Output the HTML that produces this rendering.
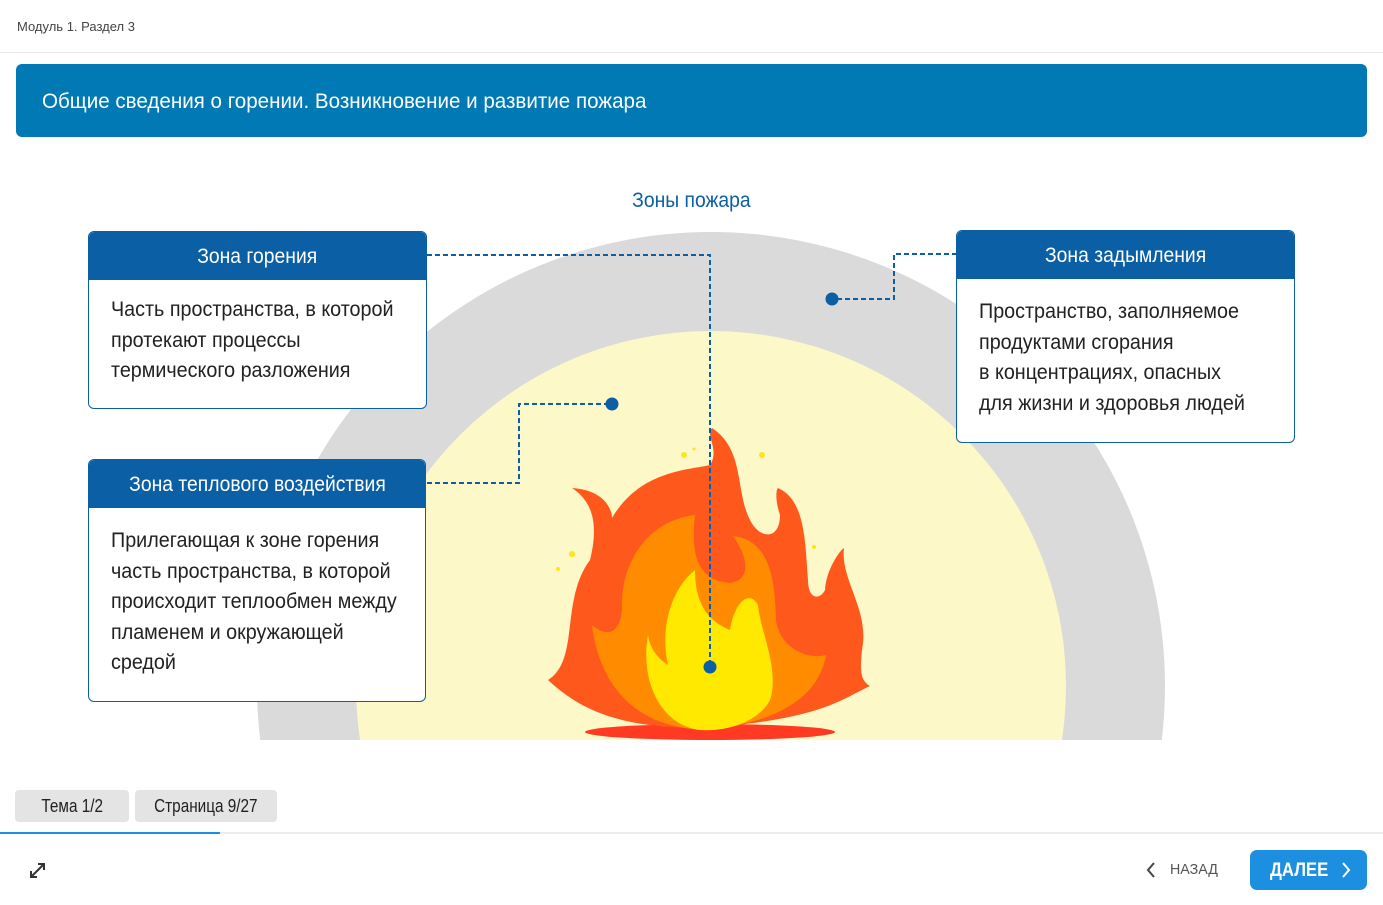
<!DOCTYPE html>
<html><head><meta charset="utf-8">
<style>
html,body{margin:0;width:1383px;height:905px;overflow:hidden;}
body{background:#fff;position:relative;font-family:"Liberation Sans",sans-serif;}
.abs{position:absolute}
.box{position:absolute;background:#fff;border:1px solid #0b5fa5;border-radius:6px;box-sizing:border-box;overflow:hidden}
.hd{background:#0b5fa5;color:#fff;border-radius:5px 5px 0 0;text-align:center;font-size:21px;height:48px;line-height:50px;}
.hd span{display:inline-block;transform:scaleX(0.92)}
.tw{padding:17px 0 0 22px}
.tx{font-size:21px;color:#222;line-height:30.5px;white-space:nowrap;transform:scaleX(0.94);transform-origin:0 0}
.sx{display:inline-block;transform-origin:0 50%}
</style></head><body>
<div class="abs" style="left:17px;top:19px;font-size:13px;color:#444">Модуль 1. Раздел 3</div>
<div class="abs" style="left:0;top:52px;width:1383px;height:1px;background:#e6e6e6"></div>
<div class="abs" style="left:16px;top:64px;width:1351px;height:73px;background:#0179b4;border-radius:6px;color:#fff;font-size:21px;line-height:76px;box-sizing:border-box;padding-left:26px;white-space:nowrap"><span class="sx" style="transform:scaleX(0.98)">Общие сведения о горении. Возникновение и развитие пожара</span></div>
<div class="abs" style="left:0;top:189px;width:1383px;text-align:center;color:#0b5fa5;font-size:21px"><span style="display:inline-block;transform:scaleX(0.92)">Зоны пожара</span></div>
<svg class="abs" style="left:0;top:0" width="1383" height="905">
<defs><clipPath id="c"><rect x="0" y="0" width="1383" height="740"/></clipPath></defs>
<g clip-path="url(#c)">
<circle cx="711" cy="686" r="454" fill="#dadada"/>
<circle cx="711" cy="686" r="355" fill="#fdf8c8"/>
</g>
<ellipse cx="710" cy="732" rx="125" ry="8" fill="#ff3a22"/>
<path d="M548 680 C580 660 560 600 590 560 C600 520 590 500 572 488 C605 490 612 510 612 518 C640 470 690 470 710 465 C720 450 705 435 712 428 C745 450 735 490 750 520 C760 540 780 540 780 515 C775 500 776 490 778 488 C805 500 805 540 808 580 C808 600 820 600 825 590 C826 570 840 550 844 548 C840 580 870 610 862 650 C860 670 860 680 870 686 C840 700 820 720 700 728 C620 728 580 710 548 680Z" fill="#ff581d"/>
<path d="M592 625 C610 640 620 630 622 610 C620 560 650 520 695 515 C690 560 700 580 730 583 C750 580 750 560 733 536 C770 540 775 580 776 620 C780 650 810 660 826 655 C820 690 790 720 710 730 C640 730 600 690 592 625Z" fill="#ff8c00"/>
<path d="M648 635 C650 650 660 660 668 665 C660 630 670 590 695 570 C695 600 705 620 730 630 C735 600 750 590 758 605 C760 630 780 670 770 700 C760 720 730 732 700 730 C660 725 640 680 648 635Z" fill="#ffe900"/>
<g fill="#ffe418"><circle cx="684" cy="455" r="3"/><circle cx="694" cy="449" r="1.5"/><circle cx="762" cy="455" r="3"/><circle cx="572" cy="554" r="3"/><circle cx="558" cy="569" r="2"/><circle cx="814" cy="547" r="2"/></g>
<g fill="none" stroke="#0b5fa5" stroke-width="2" stroke-dasharray="5,3">
<path d="M427 255 H710 V667"/>
<path d="M427 483 H519 V404 H612"/>
<path d="M957 254 H894 V299 H832"/>
</g>
<g fill="#0b5fa5"><circle cx="710" cy="667" r="6.5"/><circle cx="612" cy="404" r="6.5"/><circle cx="832" cy="299" r="6.5"/></g>
</svg>
<div class="box" style="left:88px;top:231px;width:339px;height:178px"><div class="hd"><span>Зона горения</span></div><div class="tw" style="padding-top:15px"><div class="tx">Часть пространства, в которой<br>протекают процессы<br>термического разложения</div></div></div>
<div class="box" style="left:88px;top:459px;width:338px;height:243px"><div class="hd"><span>Зона теплового воздействия</span></div><div class="tw" style="padding-top:18px"><div class="tx">Прилегающая к зоне горения<br>часть пространства, в которой<br>происходит теплообмен между<br>пламенем и окружающей<br>средой</div></div></div>
<div class="box" style="left:956px;top:230px;width:339px;height:213px"><div class="hd"><span>Зона задымления</span></div><div class="tw" style="padding-top:18px"><div class="tx">Пространство, заполняемое<br>продуктами сгорания<br>в концентрациях, опасных<br>для жизни и здоровья людей</div></div></div>
<div class="abs" style="left:15px;top:790px;width:114px;height:32px;background:#e4e4e4;border-radius:4px;text-align:center;line-height:33px;font-size:18px;color:#222"><span style="display:inline-block;transform:scaleX(0.85)">Тема 1/2</span></div>
<div class="abs" style="left:135px;top:790px;width:142px;height:32px;background:#e4e4e4;border-radius:4px;text-align:center;line-height:33px;font-size:18px;color:#222"><span style="display:inline-block;transform:scaleX(0.85)">Страница 9/27</span></div>
<div class="abs" style="left:0;top:832px;width:1383px;height:2px;background:#ececec"></div>
<div class="abs" style="left:0;top:832px;width:220px;height:2px;background:#1c8fe0"></div>
<svg class="abs" style="left:28px;top:861px" width="20" height="20"><g stroke="#333" stroke-width="2" fill="none"><path d="M3 16 L16 3"/><path d="M10 3 H16 V9"/><path d="M3 10 V16 H9"/></g></svg>
<svg class="abs" style="left:1144px;top:861px" width="14" height="18"><path d="M10 2 L4 9 L10 16" stroke="#444" stroke-width="2" fill="none"/></svg>
<div class="abs" style="left:1170px;top:861px;font-size:15px;color:#555;white-space:nowrap"><span class="sx" style="transform:scaleX(0.95)">НАЗАД</span></div>
<div class="abs" style="left:1250px;top:850px;width:117px;height:40px;background:#1c8fe0;border-radius:7px;color:#fff;font-weight:bold;font-size:19px;line-height:42px;box-sizing:border-box;padding-left:20px;white-space:nowrap"><span class="sx" style="transform:scaleX(0.88)">ДАЛЕЕ</span></div>
<svg class="abs" style="left:1339px;top:861px" width="14" height="18"><path d="M4 2 L10 9 L4 16" stroke="#fff" stroke-width="2" fill="none"/></svg>
</body></html>
